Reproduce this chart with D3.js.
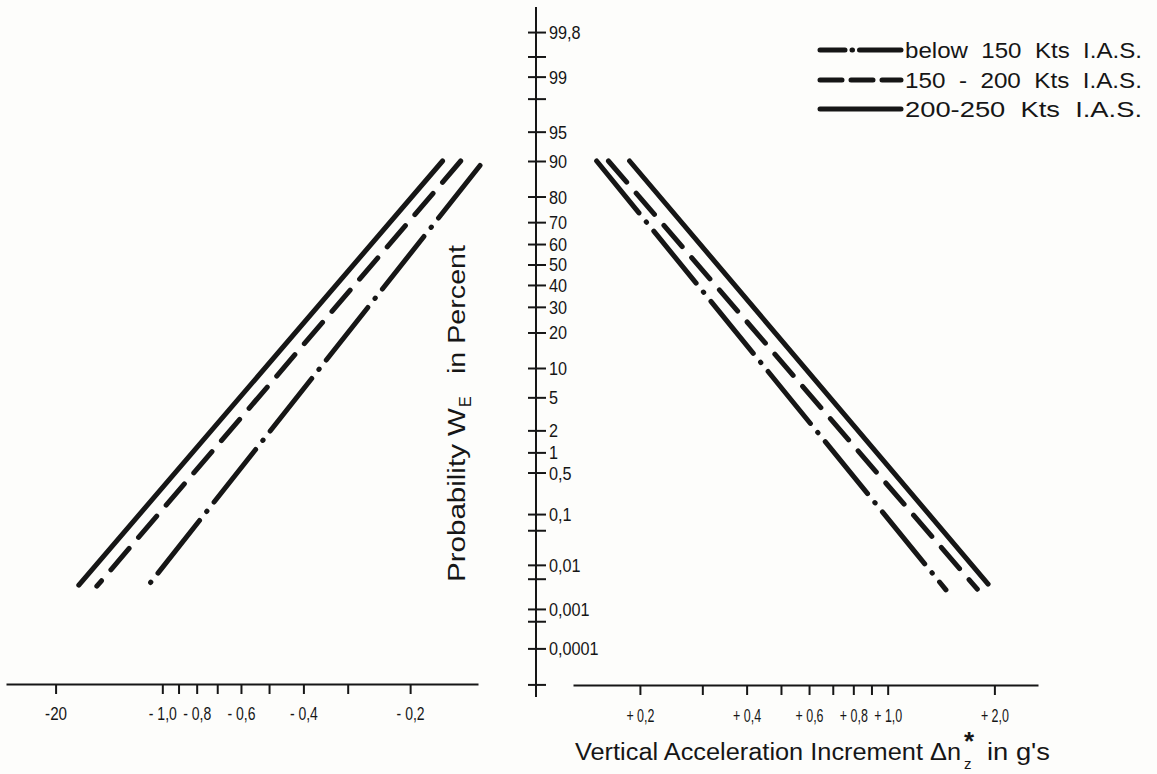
<!DOCTYPE html>
<html>
<head>
<meta charset="utf-8">
<script src="https://cdn.jsdelivr.net/npm/d3@7"></script>
<style>
  body { margin: 0; background: #fdfdfb; }
  svg { display: block; font-family: "Liberation Sans", Arial, sans-serif; }
  .axis path, .axis line { stroke: #161616; }
  .axis text { fill: #161616; }
</style>
</head>
<body>
<div id="chart"></div>
<script>
// series: below 150 Kts, 150-200 Kts, 200-250 Kts I.A.S.
var seriesNames = ["below 150 Kts I.A.S.", "150 - 200 Kts I.A.S.", "200-250 Kts I.A.S."];

// negative increments: |dn| at the upper and lower end of each line, probability in percent
var negIncrements = [[0.127, 1.11], [0.144, 1.53], [0.162, 1.72]];
var negProbabilities = [[89, 0.0031], [90, 0.0034], [90, 0.0036]];

// positive increments
var posIncrements = [[0.151, 1.46], [0.163, 1.79], [0.187, 1.92]];
var posProbabilities = [[90, 0.0028], [90, 0.0029], [90, 0.0038]];

// probability axis (percent)
var probTicks = [99.8, 99.5, 99, 98, 95, 90, 80, 70, 60, 50, 40, 30, 20, 10, 5, 2, 1, 0.5, 0.1, 0.05, 0.01, 0.005, 0.001, 0.0005, 0.0001, 0.00001];
var probTickLabels = ["99,8", "", "99", "", "95", "90", "80", "70", "60", "50", "40", "30", "20", "10", "5", "2", "1", "0,5", "0,1", "", "0,01", "", "0,001", "", "0,0001", ""];

// acceleration axes
var negTicks = [2, 1, 0.9, 0.8, 0.7, 0.6, 0.5, 0.4, 0.3, 0.2];
var negTickLabels = ["-20", "- 1,0", "", "- 0,8", "", "- 0,6", "", "- 0,4", "", "- 0,2"];
var posTicks = [0.2, 0.3, 0.4, 0.5, 0.6, 0.7, 0.8, 0.9, 1, 2];
var posTickLabels = ["+ 0,2", "", "+ 0,4", "", "+ 0,6", "", "+ 0,8", "", "+ 1,0", "+ 2,0"];

// inverse of the normal distribution (Acklam), used for the probability paper
function normInv(p) {
    var a = [-3.969683028665376e+01, 2.209460984245205e+02, -2.759285104469687e+02, 1.383577518672690e+02, -3.066479806614716e+01, 2.506628277459239e+00];
    var b = [-5.447609879822406e+01, 1.615858368580409e+02, -1.556989798598866e+02, 6.680131188771972e+01, -1.328068155288572e+01];
    var c = [-7.784894002430293e-03, -3.223964580411365e-01, -2.400758277161838e+00, -2.549732539343734e+00, 4.374664141464968e+00, 2.938163982698783e+00];
    var d = [7.784695709041462e-03, 3.224671290700398e-01, 2.445134137142996e+00, 3.754408661907416e+00];
    var q, r;
    if (p < 0.02425) {
        q = Math.sqrt(-2 * Math.log(p));
        return (((((c[0] * q + c[1]) * q + c[2]) * q + c[3]) * q + c[4]) * q + c[5]) / ((((d[0] * q + d[1]) * q + d[2]) * q + d[3]) * q + 1);
    }
    if (p <= 1 - 0.02425) {
        q = p - 0.5;
        r = q * q;
        return (((((a[0] * r + a[1]) * r + a[2]) * r + a[3]) * r + a[4]) * r + a[5]) * q / (((((b[0] * r + b[1]) * r + b[2]) * r + b[3]) * r + b[4]) * r + 1);
    }
    q = Math.sqrt(-2 * Math.log(1 - p));
    return -(((((c[0] * q + c[1]) * q + c[2]) * q + c[3]) * q + c[4]) * q + c[5]) / ((((d[0] * q + d[1]) * q + d[2]) * q + d[3]) * q + 1);
}

// squeeze text a little so Liberation Sans looks like the narrow stencil lettering
function condense(selection, factor, maxWidth) {
    selection.each(function () {
        var w = this.getComputedTextLength() * factor;
        if (w > 0) {
            if (maxWidth && w > maxWidth) w = maxWidth;
            d3.select(this).attr("textLength", w).attr("lengthAdjust", "spacingAndGlyphs");
        }
    });
}

var ProbabilityChart = (function () {
    function ProbabilityChart(divId) {
        var _this = this;
        this.divId = divId;
        this.size = { width: 1157, height: 774 };
        this.ink = "#161616";
        // log scales for |dn|, left half mirrored
        this.xNeg = d3.scaleLog().domain([2.76, 0.1287]).range([6, 478]);
        this.xPos = d3.scaleLog().domain([0.1295, 2.655]).range([573, 1038]);
        // linear in the normal quantile
        this.yScale = d3.scaleLinear().domain([0, normInv(0.9)]).range([264.5, 161]);
        this.dashes = ["67,11.5,0.5,11.5", "28,14.5", null];
        this.legendDashes = ["25,7,0.5,7,60", "22,9", null];
        this.line = function (xScale) {
            return d3.line()
                .x(function (d) { return xScale(d.dn); })
                .y(function (d) { return _this.yScale(normInv(d.p / 100)); });
        };
        this.initialize();
    }
    ProbabilityChart.prototype.initialize = function () {
        this.svg = d3.select("#" + this.divId).append("svg")
            .attr("width", this.size.width)
            .attr("height", this.size.height);
        this.svg.append("rect").attr("width", this.size.width).attr("height", this.size.height).attr("fill", "#fdfdfb");
    };
    ProbabilityChart.prototype.drawAxes = function () {
        var svg = this.svg;
        // probability axis in the middle
        svg.append("line")
            .attr("x1", 536).attr("x2", 536).attr("y1", 7).attr("y2", 697)
            .attr("stroke", this.ink).attr("stroke-width", 2);
        var yAxis = d3.axisRight(this.yScale)
            .tickValues(probTicks.map(function (p) { return normInv(p / 100); }))
            .tickFormat(function (d, i) { return probTickLabels[i]; })
            .tickSize(18).tickPadding(3);
        var gy = svg.append("g").attr("class", "axis").attr("transform", "translate(528,0)").call(yAxis);
        gy.select(".domain").remove();
        gy.selectAll("line").attr("stroke-width", 2);
        gy.selectAll("text").style("font-size", "18px").attr("dy", "0.36em").call(condense, 0.9);

        var xAxisNeg = d3.axisBottom(this.xNeg).tickValues(negTicks)
            .tickFormat(function (d, i) { return negTickLabels[i]; })
            .tickSize(10).tickSizeOuter(0).tickPadding(13);
        var gn = svg.append("g").attr("class", "axis").attr("transform", "translate(0,684)").call(xAxisNeg);
        var xAxisPos = d3.axisBottom(this.xPos).tickValues(posTicks)
            .tickFormat(function (d, i) { return posTickLabels[i]; })
            .tickSize(10).tickSizeOuter(0).tickPadding(14);
        var gp = svg.append("g").attr("class", "axis").attr("transform", "translate(0,685)").call(xAxisPos);
        [gn, gp].forEach(function (g) {
            g.select(".domain").attr("stroke-width", 2);
            g.selectAll("line").attr("stroke-width", 2);
            g.selectAll("text").style("font-size", "19px").call(condense, 0.8, 28);
        });

        // x title
        svg.append("text").attr("x", 575).attr("y", 760)
            .attr("textLength", 386).attr("lengthAdjust", "spacingAndGlyphs")
            .style("font-size", "23px").attr("fill", this.ink)
            .text("Vertical  Acceleration  Increment  \u0394n");
        svg.append("text").attr("x", 964).attr("y", 769).style("font-size", "15px").attr("fill", this.ink).text("z");
        svg.append("text").attr("x", 969).attr("y", 750).attr("text-anchor", "middle")
            .style("font-size", "26px").style("font-weight", "bold").attr("fill", this.ink).text("*");
        svg.append("text").attr("x", 987).attr("y", 760)
            .attr("textLength", 63).attr("lengthAdjust", "spacingAndGlyphs")
            .style("font-size", "23px").attr("fill", this.ink).text("in g's");

        // y title
        var gt = svg.append("g").attr("transform", "rotate(-90)").attr("fill", this.ink);
        gt.append("text").attr("x", -582).attr("y", 465)
            .attr("textLength", 174).attr("lengthAdjust", "spacingAndGlyphs")
            .style("font-size", "23px").text("Probability  W");
        gt.append("text").attr("x", -407).attr("y", 471).style("font-size", "16px").text("E");
        gt.append("text").attr("x", -374).attr("y", 465)
            .attr("textLength", 129).attr("lengthAdjust", "spacingAndGlyphs")
            .style("font-size", "23px").text("in  Percent");
    };
    ProbabilityChart.prototype.renderLines = function () {
        var _this = this;
        var sides = [
            { scale: this.xNeg, dn: negIncrements, p: negProbabilities },
            { scale: this.xPos, dn: posIncrements, p: posProbabilities }
        ];
        sides.forEach(function (side) {
            var rows = seriesNames.map(function (name, i) {
                return side.dn[i].map(function (v, j) { return { dn: v, p: side.p[i][j] }; });
            });
            _this.svg.append("g").selectAll("path").data(rows).enter().append("path")
                .attr("d", _this.line(side.scale))
                .attr("fill", "none")
                .attr("stroke", _this.ink)
                .attr("stroke-width", 5)
                .attr("stroke-linecap", "round")
                .attr("stroke-dasharray", function (d, i) { return _this.dashes[i]; });
        });
    };
    ProbabilityChart.prototype.renderLegend = function () {
        var _this = this;
        var rowY = [50, 80, 109];
        var legend = this.svg.append("g").selectAll("g").data(seriesNames).enter().append("g")
            .attr("transform", function (d, i) { return "translate(0," + rowY[i] + ")"; });
        legend.append("line")
            .attr("x1", 820).attr("x2", 901)
            .attr("stroke", this.ink).attr("stroke-width", 5).attr("stroke-linecap", "round")
            .attr("stroke-dasharray", function (d, i) { return _this.legendDashes[i]; });
        legend.append("text")
            .attr("x", 905).attr("y", 7.5)
            .attr("textLength", 237).attr("lengthAdjust", "spacingAndGlyphs")
            .style("font-size", "22px").attr("fill", this.ink)
            .text(function (d) { return d.replace(/ /g, "  "); })
            .style("white-space", "pre");
    };
    return ProbabilityChart;
}());

var chart = new ProbabilityChart("chart");
chart.drawAxes();
chart.renderLines();
chart.renderLegend();
</script>
</body>
</html>
